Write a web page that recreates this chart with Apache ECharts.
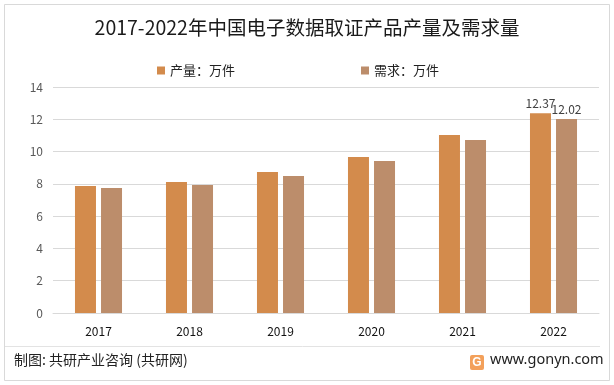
<!DOCTYPE html>
<html>
<head>
<meta charset="utf-8">
<script src="https://cdn.jsdelivr.net/npm/echarts@6/dist/echarts.min.js"></script>
<style>html,body{margin:0;padding:0;background:#fff;}#c{width:614px;height:385px;}</style>
</head>
<body>
<div id="c"></div>
<script>
var categories = ['2017', '2018', '2019', '2020', '2021', '2022'];
var production = [7.87, 8.12, 8.74, 9.67, 11.03, 12.37];
var demand = [7.74, 7.93, 8.49, 9.42, 10.72, 12.02];
var yTicks = [0, 2, 4, 6, 8, 10, 12, 14];
var seriesNames = ['产量：万件', '需求：万件'];

var font = '"Noto Sans CJK SC", "Microsoft YaHei", sans-serif';
var chart = echarts.init(document.getElementById('c'));
function lastLabel() {
  return {
    show: true, position: 'top', distance: 4, color: '#404040', fontSize: 12, fontFamily: font,
    formatter: function (p) { return p.dataIndex === categories.length - 1 ? p.value.toFixed(2) : ''; }
  };
}
chart.setOption({
  backgroundColor: '#fff',
  animation: false,
  title: {
    text: '2017-2022年中国电子数据取证产品产量及需求量',
    left: 'center', top: 13,
    textStyle: { fontSize: 19.5, fontWeight: 'normal', color: '#1a1a1a', fontFamily: font }
  },
  legend: {
    data: seriesNames,
    left: 152, top: 59,
    itemWidth: 8, itemHeight: 8, itemGap: 126,
    icon: 'rect',
    textStyle: { fontSize: 13, color: '#222', fontFamily: font }
  },
  grid: { left: 53, right: 15, top: 87, bottom: 72 },
  xAxis: {
    type: 'category', data: categories,
    axisLine: { lineStyle: { color: '#d9d9d9' } },
    axisTick: { show: false },
    axisLabel: { color: '#111', fontSize: 12, margin: 12, fontFamily: font }
  },
  yAxis: {
    type: 'value', min: yTicks[0], max: yTicks[yTicks.length - 1], interval: 2,
    axisLine: { show: false }, axisTick: { show: false },
    axisLabel: { color: '#595959', fontSize: 12, margin: 10, fontFamily: font },
    splitLine: { lineStyle: { color: '#d9d9d9', width: 1 } }
  },
  series: [
    {
      name: seriesNames[0], type: 'bar', data: production, barWidth: 21, barGap: '24%',
      itemStyle: { color: '#D38B4C' }, label: lastLabel()
    },
    {
      name: seriesNames[1], type: 'bar', data: demand, barWidth: 21,
      itemStyle: { color: '#BC8D6B' }, label: lastLabel()
    }
  ],
  graphic: [
    { type: 'rect', shape: { x: 4.5, y: 4.5, width: 605, height: 376 }, style: { fill: 'none', stroke: '#d9d9d9', lineWidth: 1 }, silent: true },
    { type: 'line', shape: { x1: 5, y1: 346.5, x2: 600, y2: 346.5 }, style: { stroke: '#e3e3e3', lineWidth: 1 } },
    { type: 'text', left: 14, top: 353, style: { text: '制图: 共研产业咨询 (共研网)', fontSize: 14, fill: '#222', fontFamily: font } },
    { type: 'rect', shape: { x: 470, y: 355, width: 14, height: 15, r: 2 }, style: { fill: '#F3A05A' } },
    { type: 'text', x: 477, y: 362.5, style: { text: 'G', fontSize: 12, fontWeight: 'bold', fill: '#fff', align: 'center', verticalAlign: 'middle', fontFamily: 'Arial' } },
    { type: 'text', left: 490, top: 352, style: { text: 'www.gonyn.com', fontSize: 14.5, fill: '#222', fontFamily: '"Noto Sans", sans-serif' } }
  ]
});
</script>
</body>
</html>
